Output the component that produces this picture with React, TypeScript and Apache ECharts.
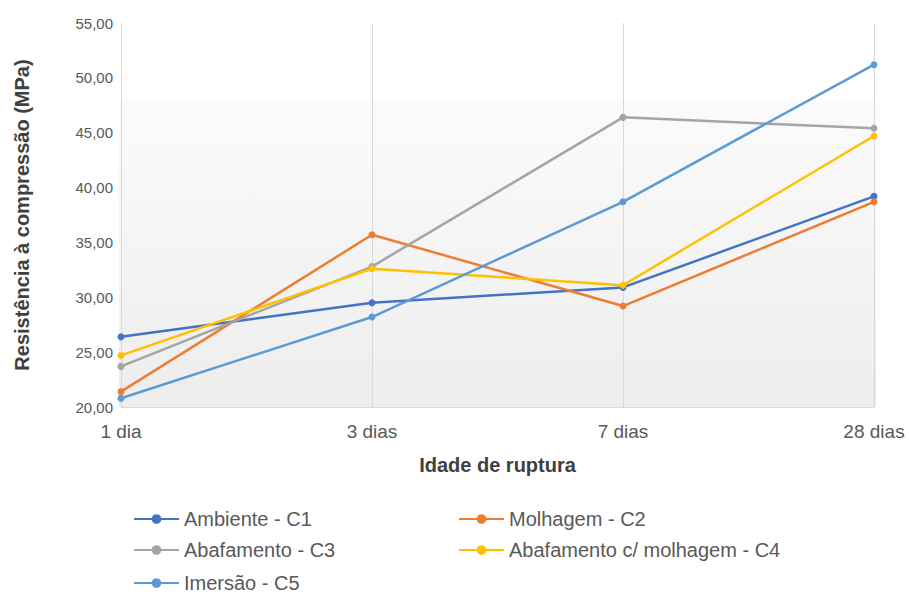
import React, { useEffect, useRef } from "react";
import * as echarts from "echarts";

const categories = ["1 dia", "3 dias", "7 dias", "28 dias"];
const seriesNames = [
  "Ambiente - C1",
  "Molhagem - C2",
  "Abafamento - C3",
  "Abafamento c/ molhagem - C4",
  "Imersão - C5",
];
const ambiente = [26.4, 29.5, 30.9, 39.2];
const molhagem = [21.4, 35.7, 29.2, 38.7];
const abafamento = [23.7, 32.8, 46.4, 45.4];
const abafMolhagem = [24.7, 32.6, 31.1, 44.7];
const imersao = [20.8, 28.2, 38.7, 51.2];
const colors = ["#4472c4", "#ed7d31", "#a5a5a5", "#ffc000", "#5b9bd5"];

const FONT = "'Liberation Sans', Arial, sans-serif";

export default function App() {
  const ref = useRef<HTMLDivElement>(null);
  useEffect(() => {
    if (!ref.current) return;
    const chart = echarts.init(ref.current, null, { renderer: "svg" });
    const values = [ambiente, molhagem, abafamento, abafMolhagem, imersao];
    const legendPos = [
      { left: 133, top: 509 },
      { left: 458, top: 509 },
      { left: 133, top: 540 },
      { left: 458, top: 540 },
      { left: 133, top: 573 },
    ];
    chart.setOption({
      animation: false,
      backgroundColor: "#ffffff",
      color: colors,
      grid: { left: 121, right: 35, top: 23, bottom: 189 },
      graphic: [
        {
          type: "rect",
          z: -10,
          shape: { x: 119, y: 100, width: 757, height: 307 },
          style: {
            fill: new echarts.graphic.LinearGradient(0, 0, 0, 1, [
              { offset: 0, color: "#fbfbfb" },
              { offset: 1, color: "#ededed" },
            ]),
          },
          silent: true,
        },
      ],
      xAxis: {
        type: "category",
        data: categories,
        boundaryGap: false,
        axisLine: { lineStyle: { color: "#d9d9d9", width: 1 } },
        axisTick: { show: false },
        splitLine: { show: true, lineStyle: { color: "#d9d9d9", width: 1 } },
        axisLabel: { color: "#595959", fontSize: 19, fontFamily: FONT, margin: 15 },
        name: "Idade de ruptura",
        nameLocation: "middle",
        nameGap: 48,
        nameTextStyle: { color: "#404040", fontSize: 20, fontWeight: "bold", fontFamily: FONT },
      },
      yAxis: {
        type: "value",
        min: 20,
        max: 55,
        interval: 5,
        axisLine: { show: false },
        axisTick: { show: false },
        splitLine: { show: false },
        axisLabel: {
          color: "#595959",
          fontSize: 15,
          fontFamily: FONT,
          margin: 8,
          formatter: (v: number) => v.toFixed(2).replace(".", ","),
        },
        name: "Resistência à compressão (MPa)",
        nameLocation: "middle",
        nameGap: 89,
        nameTextStyle: { color: "#404040", fontSize: 20, fontWeight: "bold", fontFamily: FONT },
      },
      legend: seriesNames.map((n, i) => ({
        data: [n],
        left: legendPos[i].left,
        top: legendPos[i].top,
        padding: 0,
        itemWidth: 45,
        itemHeight: 12,
        itemGap: 3,
        textStyle: { color: "#595959", fontSize: 20, fontFamily: FONT },
      })),
      series: seriesNames.map((n, i) => ({
        name: n,
        type: "line",
        data: values[i],
        symbol: "circle",
        symbolSize: 7,
        lineStyle: { width: 2.5, color: colors[i] },
        itemStyle: { color: colors[i] },
      })),
    });
    return () => chart.dispose();
  }, []);
  return (
    <div
      ref={ref}
      style={{ position: "fixed", left: 0, top: 0, width: 909, height: 596 }}
    />
  );
}
